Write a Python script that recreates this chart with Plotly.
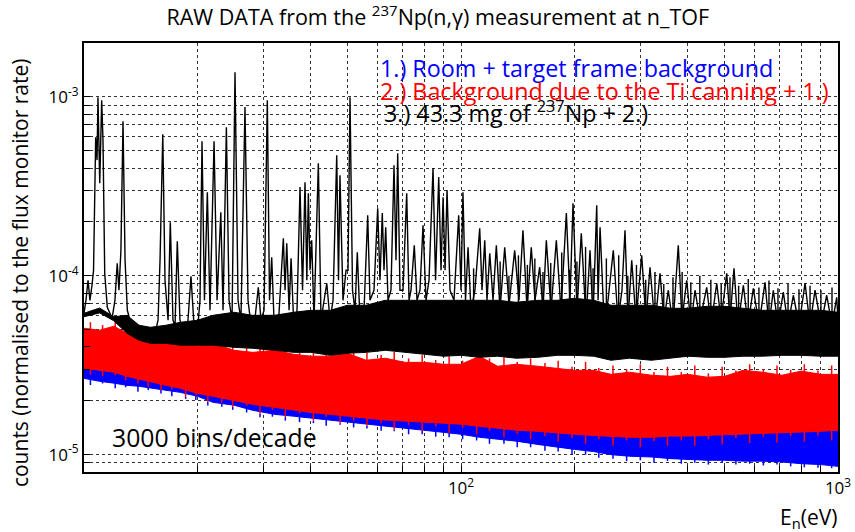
import plotly.graph_objects as go

# ---------------- data ----------------
# black: 43.3 mg of 237Np + 2.)  -- resonance structure (E in eV, counts in units of 1e-5)
black_E = [10.0, 10.12, 10.25, 10.37, 10.50, 10.60, 10.74, 10.83, 10.89, 11.01, 11.14, 11.23, 11.35, 11.53, 11.87,
           12.08, 12.25, 12.38, 12.53, 12.69, 12.85, 13.03, 13.24, 13.66, 14.08, 14.51, 14.97, 15.43, 15.72, 15.91,
           16.18, 16.40, 16.71, 16.94, 17.22, 17.44, 17.68, 17.97, 18.42, 18.87, 19.22, 19.58, 19.97, 20.31, 20.56,
           20.87, 21.24, 21.59, 22.13, 22.54, 23.06, 23.38, 23.86, 24.25, 24.70, 25.15, 25.62, 26.08, 26.73, 27.23,
           27.73, 28.42, 29.00, 29.48, 30.03, 30.64, 31.05, 31.47, 31.92, 32.71, 33.79, 34.14, 34.50, 34.99, 35.42,
           36.06, 36.73, 37.41, 37.99, 38.57, 39.00, 39.36, 39.77, 40.18, 40.75, 41.84, 42.53, 43.33, 44.05, 44.94,
           45.77, 46.81, 47.32, 47.75, 48.64, 49.55, 50.15, 50.77, 51.55, 52.34, 53.08, 53.96, 55.30, 56.56, 57.36,
           58.78, 60.12, 60.97, 61.83, 62.48, 63.14, 64.03, 65.20, 66.42, 67.23, 67.93, 68.89, 70.17, 71.78, 72.80,
           73.69, 75.18, 76.44, 77.84, 79.29, 80.76, 82.25, 84.29, 85.60, 87.28, 88.52, 89.63, 90.72, 91.83, 93.51,
           95.81, 98.6, 100.0, 101.2, 102.8, 104.4, 106.3, 108.9, 112.1, 113.7, 115.6, 117.2, 119.2, 121.6, 124.1,
           126.9, 130.6, 134.1, 138.8, 142.5, 146.0, 149.7, 153.6, 157.1, 161.7, 165.0, 168.4, 173.3, 179.0, 184.2,
           190.3, 194.6, 198.2, 203.1, 208.5, 214.6, 219.9, 223.9, 229.1, 231.0, 233.8, 239.6, 245.5, 253.5, 260.9,
           267.3, 272.3, 277.3, 283.7, 291.2, 301.5, 309.5, 317.2, 327.0, 337.2, 345.5, 354.7, 365.0, 377.0, 385.6,
           396.9, 407.4, 417.5, 430.5, 448.5, 460.4, 476.8, 489.4, 506.8, 517.0, 529.8, 543.0, 561.0, 577.2, 596.2,
           617.3, 640.3, 656.1, 673.6, 693.2, 716.1, 737.1, 761.2, 788.3, 817.7, 843.0, 869.0, 901.5, 933.3, 964.0,
           992.2, 1000.0]
black_counts_e5 = [6.17, 7.29, 9.44, 7.29, 8.85, 10.73, 59.5, 44.3, 99.6, 32.9, 95.8, 57.3, 10.3, 6.66, 5.78,
                   7.29, 11.74, 8.30, 13.89, 73.1, 12.21, 6.41, 5.64, 5.15, 4.96, 4.77, 5.09, 4.77, 5.64, 12.21,
                   61.8, 9.44, 5.64, 19.9, 5.64, 5.29, 15.6, 5.64, 4.77, 5.64, 9.94, 5.29, 4.77, 7.29, 56.5,
                   7.29, 29.3, 6.41, 56.5, 7.29, 22.65, 6.41, 67.7, 7.29, 5.64, 137.4, 7.29, 5.64, 87.6, 7.29,
                   5.29, 5.78, 8.62, 5.64, 6.41, 95.8, 7.29, 12.69, 5.64, 4.96, 16.2, 8.30, 15.2, 6.41, 12.53,
                   4.96, 6.41, 31.3, 8.30, 33.3, 9.44, 28.9, 10.73, 15.8, 5.64, 42.6, 5.64, 7.29, 9.08, 5.64,
                   7.29, 47.2, 9.44, 36.5, 7.29, 10.73, 10.73, 99.6, 8.30, 6.41, 13.53, 5.64, 6.41, 21.8, 7.29,
                   8.30, 23.85, 9.44, 22.4, 10.73, 18.66, 7.29, 8.30, 41.5, 12.21, 48.4, 8.30, 8.30, 28.9, 7.29,
                   8.30, 14.8, 7.29, 8.30, 19.15, 7.29, 9.44, 39.9, 9.44, 35.6, 10.73, 27.5, 10.73, 30.1, 8.30,
                   7.29, 21.8, 8.30, 29.3, 7.29, 14.43, 6.41, 8.30, 18.43, 8.30, 15.8, 7.29, 13.36, 7.29, 14.8,
                   6.41, 14.43, 6.84, 13.89, 7.29, 17.97, 6.41, 14.43, 7.29, 11.16, 6.41, 15.8, 6.41, 15.8, 6.41,
                   22.4, 7.29, 25.44, 6.41, 17.29, 5.64, 13.89, 5.64, 24.8, 7.29, 18.66, 5.64, 7.29, 13.89, 5.64,
                   8.30, 17.97, 5.64, 12.21, 5.64, 13.02, 5.64, 11.16, 5.29, 10.32, 5.64, 8.30, 5.29, 14.8, 5.64,
                   9.44, 5.29, 8.30, 5.64, 8.62, 5.29, 9.08, 5.64, 10.32, 5.64, 11.01, 5.29, 8.85, 5.29, 8.51,
                   5.29, 9.20, 5.29, 8.30, 5.29, 8.09, 5.29, 7.78, 5.29, 9.08, 5.29, 8.30, 5.29, 7.78, 5.29,
                   7.58, 5.64]

# extra narrow black spikes in the dense high-energy part (E in eV, tip counts in 1e-5)
black_spike_E = [108, 127, 134, 142, 150, 157, 165, 173, 185, 194, 203, 214, 224, 243, 262, 277, 292, 309, 327,
                 345, 365, 386, 407, 430, 460, 490, 517, 545, 578, 617, 656, 693, 737, 788, 843, 901, 964]
black_spike_tip_e5 = [11.0, 12.0, 10.0, 13.0, 11.5, 12.5, 10.5, 11.8, 13.5, 10.8, 12.0, 14.5, 11.0, 12.5, 13.0,
                      10.0, 11.5, 9.5, 10.5, 9.0, 9.8, 10.5, 9.2, 10.0, 9.5, 9.0, 9.8, 8.8, 9.6, 8.6, 9.4, 8.5,
                      9.0, 8.4, 8.8, 8.3, 8.6]
black_spike_base_e5 = 5.0

# noise bands: common energy grid (eV) with lower / upper envelopes (units of 1e-5)
band_E = [10, 11, 12, 13, 14, 15, 16.5, 18, 20, 22, 25, 28, 32, 36, 40, 45, 50, 56, 63, 71, 80, 90, 100,
          112, 125, 140, 160, 180, 200, 225, 250, 280, 320, 360, 400, 450, 500, 560, 630, 710, 800, 900, 1000]

black_band_high_e5 = [6.17, 6.6, 5.9, 6.01, 5.29, 5.15, 5.29, 5.49, 5.64, 6.01, 6.25, 6.01, 6.01, 6.25, 6.41,
                      6.41, 6.84, 6.84, 7.29, 7.29, 7.29, 7.29, 7.29, 7.29, 7.29, 7.11, 7.29, 7.29, 7.48, 7.29,
                      6.84, 6.84, 6.84, 6.58, 6.58, 6.75, 6.75, 6.58, 6.41, 6.41, 6.41, 6.41, 6.25]
black_band_low_e5 = [5.9, 6.2, 5.6, 4.77, 4.36, 4.19, 4.19, 4.09, 4.09, 4.09, 3.98, 3.93, 3.83, 3.73, 3.73,
                     3.59, 3.69, 3.73, 3.83, 3.73, 3.64, 3.55, 3.59, 3.50, 3.55, 3.46, 3.50, 3.59, 3.59, 3.55,
                     3.37, 3.46, 3.37, 3.46, 3.55, 3.50, 3.50, 3.55, 3.55, 3.59, 3.59, 3.55, 3.55]

red_high_e5 = [5.09, 4.96, 5.22, 4.77, 4.59, 4.53, 4.36, 4.25, 4.03, 4.19, 3.83, 3.73, 3.83, 3.64, 3.55,
               3.55, 3.69, 3.37, 3.46, 3.28, 3.28, 3.20, 3.20, 3.55, 3.12, 3.20, 3.12, 3.04, 2.96, 2.96,
               2.81, 2.89, 2.78, 2.74, 2.81, 2.71, 2.74, 2.96, 2.89, 2.78, 2.93, 2.81, 2.81]
red_low_e5 = [3.04, 2.96, 2.89, 2.74, 2.64, 2.54, 2.44, 2.35, 2.20, 2.12, 2.01, 1.91, 1.84, 1.77, 1.72,
              1.68, 1.64, 1.60, 1.56, 1.54, 1.52, 1.50, 1.48, 1.44, 1.40, 1.37, 1.35, 1.32, 1.30, 1.28,
              1.27, 1.25, 1.25, 1.27, 1.27, 1.28, 1.30, 1.30, 1.32, 1.32, 1.33, 1.35, 1.37]

blue_high_e5 = [3.6, 3.5, 3.4, 3.3, 3.2, 3.1, 3.0, 2.95, 2.8, 2.7, 2.6, 2.5, 2.4, 2.35, 2.3,
                2.25, 2.2, 2.15, 2.1, 2.05, 2.0, 2.0, 1.95, 1.9, 1.85, 1.8, 1.75, 1.72, 1.7, 1.68,
                1.65, 1.62, 1.6, 1.6, 1.6, 1.6, 1.6, 1.6, 1.6, 1.6, 1.6, 1.6, 1.6]
blue_low_e5 = [2.67, 2.57, 2.51, 2.44, 2.41, 2.35, 2.29, 2.23, 2.12, 1.96, 1.89, 1.77, 1.68, 1.64, 1.60,
               1.56, 1.52, 1.48, 1.44, 1.40, 1.37, 1.33, 1.30, 1.25, 1.22, 1.19, 1.14, 1.10, 1.07, 1.04,
               1.00, 0.98, 0.97, 0.95, 0.94, 0.93, 0.93, 0.92, 0.92, 0.91, 0.89, 0.88, 0.86]

# individual noisy bins sticking out of the red / blue bands (E in eV, extremes in 1e-5)
hair_E = [10.4, 11.2, 12.1, 12.9, 13.9, 14.8, 16.0, 17.1, 18.6, 19.8, 21.3, 23.2, 24.8, 27.0, 29.3, 31.6, 34.2,
          37.3, 40.6, 43.9, 47.8, 51.9, 56.3, 61.4, 66.5, 72.6, 78.9, 85.7, 93.0, 101, 110, 119, 130, 141, 153,
          167, 181, 197, 214, 232, 253, 275, 299, 325, 353, 384, 417, 453, 493, 536, 583, 634, 689, 749, 814,
          885, 962]
red_hair_high_e5 = [5.5, 5.3, 5.7, 5.0, 5.1, 4.75, 4.9, 4.45, 4.6, 4.25, 4.6, 4.15, 4.3, 3.95, 4.2, 3.95, 4.1,
                    3.8, 3.95, 3.7, 4.0, 3.75, 3.7, 3.6, 3.75, 3.45, 3.6, 3.38, 3.55, 3.35, 3.7, 3.45, 3.5, 3.3,
                    3.45, 3.25, 3.35, 3.1, 3.3, 3.05, 3.15, 3.0, 3.2, 2.9, 3.1, 2.9, 3.15, 2.85, 3.1, 2.95, 3.2,
                    3.0, 3.15, 2.98, 3.2, 2.95, 3.15]
red_hair_low_e5 = [2.8, 2.75, 2.78, 2.6, 2.5, 2.4, 2.3, 2.32, 2.1, 2.15, 1.98, 1.95, 1.85, 1.88, 1.7, 1.78, 1.62,
                   1.7, 1.55, 1.63, 1.5, 1.55, 1.45, 1.5, 1.38, 1.47, 1.36, 1.44, 1.32, 1.41, 1.3, 1.36, 1.25,
                   1.31, 1.22, 1.27, 1.18, 1.24, 1.15, 1.22, 1.12, 1.2, 1.1, 1.19, 1.12, 1.2, 1.12, 1.22, 1.14,
                   1.24, 1.16, 1.26, 1.17, 1.27, 1.18, 1.28, 1.2]
blue_hair_low_e5 = [2.45, 2.5, 2.35, 2.38, 2.25, 2.3, 2.2, 2.12, 2.05, 2.02, 1.88, 1.85, 1.78, 1.72, 1.62, 1.63,
                    1.55, 1.52, 1.5, 1.45, 1.47, 1.42, 1.4, 1.36, 1.35, 1.3, 1.3, 1.26, 1.25, 1.22, 1.2, 1.15,
                    1.15, 1.1, 1.1, 1.05, 1.04, 1.0, 1.0, 0.96, 0.95, 0.92, 0.93, 0.9, 0.92, 0.89, 0.9, 0.88,
                    0.9, 0.88, 0.89, 0.87, 0.88, 0.86, 0.85, 0.845, 0.84]

x_grid_vals = [20, 30, 40, 50, 60, 70, 80, 90, 100, 200, 300, 400, 500, 600, 700, 800, 900, 1000]
x_labels = {100: "10<sup>2</sup>", 1000: "10<sup>3</sup>"}
y_grid_vals = [9e-6, 1e-5, 2e-5, 3e-5, 4e-5, 5e-5, 6e-5, 7e-5, 8e-5, 9e-5,
               1e-4, 2e-4, 3e-4, 4e-4, 5e-4, 6e-4, 7e-4, 8e-4, 9e-4, 1e-3, 2e-3]
y_labels = {1e-5: "10<sup>-5</sup>", 1e-4: "10<sup>-4</sup>", 1e-3: "10<sup>-3</sup>"}

assert len(black_E) == len(black_counts_e5)
assert len(black_spike_E) == len(black_spike_tip_e5)
for arr in (black_band_high_e5, black_band_low_e5, red_high_e5, red_low_e5, blue_high_e5, blue_low_e5):
    assert len(arr) == len(band_E)
for arr in (red_hair_high_e5, red_hair_low_e5, blue_hair_low_e5):
    assert len(arr) == len(hair_E)

S = 1e-5
BLUE = "#0000ff"
RED = "#ff0000"
BLACK = "#000000"
FONT = "Open Sans"

fig = go.Figure()


def add_band(low, high, color):
    fig.add_trace(go.Scatter(x=band_E, y=[v * S for v in low], mode="lines",
                             line=dict(color=color, width=1), showlegend=False, hoverinfo="skip"))
    fig.add_trace(go.Scatter(x=band_E, y=[v * S for v in high], mode="lines", fill="tonexty",
                             fillcolor=color, line=dict(color=color, width=1), showlegend=False,
                             hoverinfo="skip"))


def add_hairs(es, lows, highs, color, width=1.5):
    xs, ys = [], []
    for e, lo, hi in zip(es, lows, highs):
        xs += [e, e, None]
        ys += [lo * S, hi * S, None]
    fig.add_trace(go.Scatter(x=xs, y=ys, mode="lines", line=dict(color=color, width=width),
                             showlegend=False, hoverinfo="skip", connectgaps=False))


add_band(blue_low_e5, blue_high_e5, BLUE)
add_hairs(hair_E, blue_hair_low_e5, red_hair_low_e5, BLUE)
add_band(red_low_e5, red_high_e5, RED)
add_hairs(hair_E, red_hair_low_e5, red_hair_high_e5, RED)
add_band(black_band_low_e5, black_band_high_e5, BLACK)
add_hairs(black_spike_E, [black_spike_base_e5] * len(black_spike_E), black_spike_tip_e5, BLACK, 1.4)

fig.add_trace(go.Scatter(x=black_E, y=[v * S for v in black_counts_e5], mode="lines",
                         line=dict(color=BLACK, width=1.4), showlegend=False, hoverinfo="skip"))

axis_common = dict(type="log", tickmode="array", ticks="inside", ticklen=6, tickcolor="black",
                   showgrid=True, gridcolor="#333333", griddash="dot", gridwidth=1,
                   showline=True, linecolor="black", linewidth=2, mirror=True, automargin=False,
                   tickfont=dict(family=FONT, size=17, color="black"), zeroline=False)
fig.update_xaxes(range=[1, 3], tickvals=x_grid_vals,
                 ticktext=[x_labels.get(v, "") for v in x_grid_vals], **axis_common)
fig.update_yaxes(range=[-5.097, -2.699], tickvals=y_grid_vals,
                 ticktext=[y_labels.get(v, "") for v in y_grid_vals], **axis_common)

ann = [
    dict(text="1.) Room + target frame background", x=0.390, y=0.942, xanchor="left", yanchor="middle",
         font=dict(family=FONT, size=23.3, color=BLUE)),
    dict(text="2.) Background due to the Ti canning + 1.)", x=0.390, y=0.888, xanchor="left", yanchor="middle",
         font=dict(family=FONT, size=23.3, color=RED)),
    dict(text="3.) 43.3 mg of <sup>237</sup>Np + 2.)", x=0.395, y=0.840, xanchor="left", yanchor="middle",
         font=dict(family=FONT, size=23.3, color=BLACK)),
    dict(text="3000 bins/decade", x=0.035, y=0.0816, xanchor="left", yanchor="middle",
         font=dict(family=FONT, size=24.8, color=BLACK)),
    dict(text="counts (normalised to the flux monitor rate)", x=-0.0849, y=0.466, textangle=-90,
         xanchor="center", yanchor="middle", font=dict(family=FONT, size=21, color=BLACK)),
    dict(text="E<sub>n</sub>(eV)", x=1.0013, y=-0.107, xanchor="right", yanchor="middle",
         font=dict(family=FONT, size=21, color=BLACK)),
]
for a in ann:
    a.update(xref="paper", yref="paper", showarrow=False)

fig.update_layout(
    width=855, height=532,
    margin=dict(l=84, r=17, t=43, b=60, autoexpand=False),
    paper_bgcolor="white", plot_bgcolor="white",
    title=dict(text="RAW DATA from the <sup>237</sup>Np(n,\u03b3) measurement at n_TOF",
               x=0.512, xanchor="center", y=0.968, yanchor="middle",
               font=dict(family=FONT, size=21.5, color="black")),
    annotations=ann,
    showlegend=False,
)

fig.write_html("out.html", config={"displayModeBar": False},
               post_script="document.body.style.margin='0px';")
